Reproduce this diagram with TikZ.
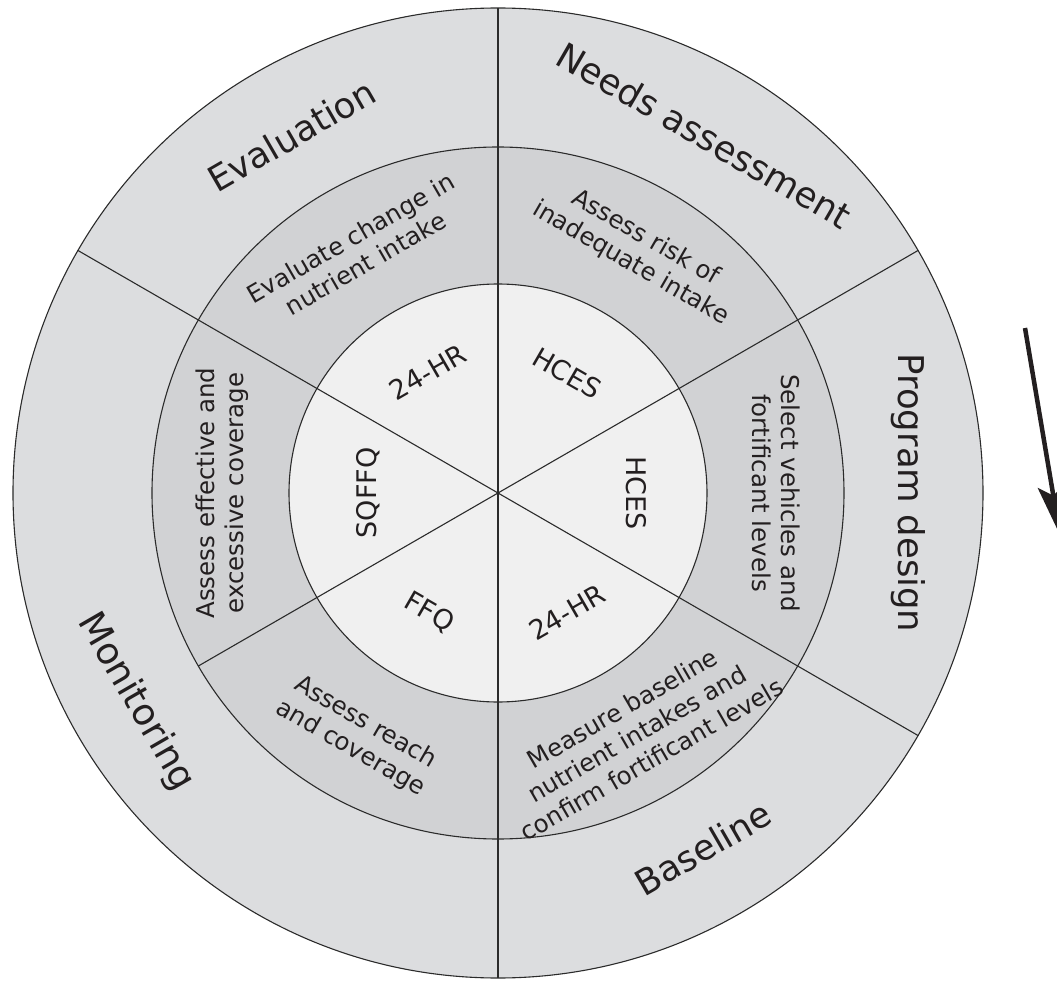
\documentclass[tikz,border=0pt]{standalone}
\usepackage{fontspec}
\setmainfont{DejaVu Sans}
\usetikzlibrary{arrows.meta}
\definecolor{outerc}{HTML}{DCDDDF}
\definecolor{midc}{HTML}{D1D2D4}
\definecolor{innerc}{HTML}{F0F0F0}
\definecolor{linec}{HTML}{2B2B2B}
\definecolor{txtc}{HTML}{231F20}
\begin{document}
\begin{tikzpicture}[x=1pt,y=1pt,
  ring/.style={draw=linec, line width=1.1pt},
  divider/.style={draw=linec, line width=1.1pt},
  outerlbl/.style={font=\fontsize{35.5}{40}\selectfont, text=txtc},
  midlbl/.style={font=\fontsize{24.5}{29.5}\selectfont, text=txtc, align=center},
  innerlbl/.style={font=\fontsize{27}{30}\selectfont, text=txtc},
  bigarrow/.style={draw=txtc, line width=4.5pt, -{Stealth[length=50pt,width=28pt,inset=10pt]}}
]
\useasboundingbox (-498,-487) rectangle (559,493);
\clip (-498,-487) rectangle (559,493);
\coordinate (O) at (0,0);
% rings
\fill[outerc] (O) circle (485);
\fill[midc] (O) circle (346);
\fill[innerc] (O) circle (209);
\draw[ring] (O) circle (485);
\draw[ring] (O) circle (346);
\draw[ring] (O) circle (209);
% dividers
\coordinate (top) at (90:485);
\coordinate (bot) at (-90:485);
\coordinate (ur) at (30:485);
\coordinate (lr) at (-30:485);
\coordinate (ul) at (150:485);
\coordinate (ll) at (210:346);
\draw[divider] (top) -- (bot);
\draw[divider] (O) -- (ur);
\draw[divider] (O) -- (lr);
\draw[divider] (O) -- (ul);
\draw[divider] (O) -- (ll);
% outer labels
\node[outerlbl, rotate=30] (evalu) at (120:413) {Evaluation};
\node[outerlbl, rotate=-30] (needs) at (60:413) {Needs assessment};
\node[outerlbl, rotate=-90] (progr) at (0:410) {Program design};
\node[outerlbl, rotate=30] (basel) at (-60:410) {Baseline};
\node[outerlbl, rotate=-60, font=\fontsize{37}{40}\selectfont] (monit) at (210:418) {Monitoring};
% middle labels
\node[midlbl, rotate=30] (m1) at (120:280) {Evaluate change in\\nutrient intake};
\node[midlbl, rotate=-30] (m2) at (60:280) {Assess risk of\\inadequate intake};
\node[midlbl, rotate=-90] (m3) at (0:278) {Select vehicles and\\fortificant levels};
\node[midlbl, rotate=30] (m4) at (-60:278) {Measure baseline\\nutrient intakes and\\confirm fortificant levels};
\node[midlbl, rotate=-30] (m5) at (240:280) {Assess reach\\and coverage};
\node[midlbl, rotate=90] (m6) at (180:276) {Assess effective and\\excessive coverage};
% inner labels
\node[innerlbl, rotate=30] (i1) at (120:140) {24-HR};
\node[innerlbl, rotate=-30] (i2) at (60:138) {HCES};
\node[innerlbl, rotate=-90] (i3) at (0:138) {HCES};
\node[innerlbl, rotate=30] (i4) at (-60:138) {24-HR};
\node[innerlbl, rotate=-30] (i5) at (240:138) {FFQ};
\node[innerlbl, rotate=90] (i6) at (180:130) {SQFFQ};
% arrow
\coordinate (a1) at (527,165);
\coordinate (a2) at (562,-42);
\draw[bigarrow] (a1) -- (a2);
\end{tikzpicture}
\end{document}
